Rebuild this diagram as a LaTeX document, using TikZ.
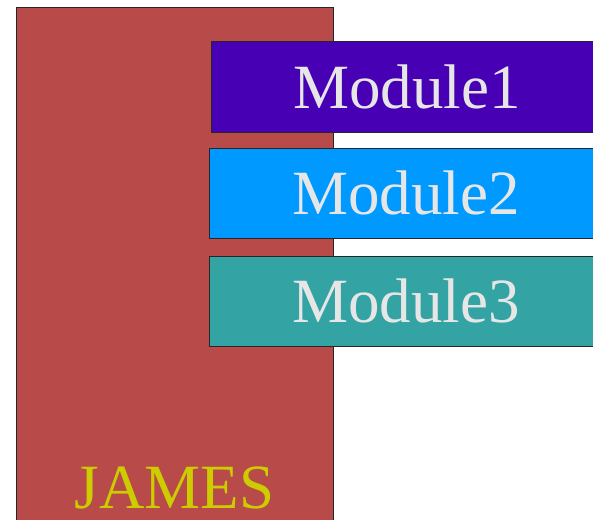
\documentclass[tikz,border=0pt]{standalone}
\usepackage{fontspec}
\setmainfont{Liberation Serif}
\definecolor{jred}{HTML}{B84A4A}
\definecolor{m1}{HTML}{4800B4}
\definecolor{m2}{HTML}{0099FF}
\definecolor{m3}{HTML}{33A3A3}
\definecolor{mtext}{HTML}{E6E6E6}
\definecolor{jtext}{HTML}{CCCC00}
\tikzset{
  panel/.style={draw=black!85, line width=0.8pt, rectangle, inner sep=0pt, anchor=north west},
  modtext/.style={text=mtext, font=\fontsize{63}{63}\selectfont, anchor=base, inner sep=0pt},
  jamestext/.style={text=jtext, font=\fontsize{63}{63}\selectfont, anchor=base, inner sep=0pt}
}
\begin{document}
\begin{tikzpicture}[x=1pt,y=-1pt]
\useasboundingbox (0,0) rectangle (593,519);
\clip (0,0) rectangle (593,519);
\node[panel, fill=jred, minimum width=317pt, minimum height=530pt] (james) at (16,7) {};
\node[panel, fill=m1, minimum width=395pt, minimum height=90pt] (mod1) at (210.5,41.5) {};
\node[panel, fill=m2, minimum width=397pt, minimum height=90pt] (mod2) at (208.5,147.5) {};
\node[panel, fill=m3, minimum width=397pt, minimum height=90pt] (mod3) at (208.5,255.5) {};
\node[modtext] (t1) at (407,108) {Module1};
\node[modtext] (t2) at (406,214) {Module2};
\node[modtext] (t3) at (406,322) {Module3};
\node[jamestext] (tj) at (174.5,508) {JAMES};
\end{tikzpicture}
\end{document}
